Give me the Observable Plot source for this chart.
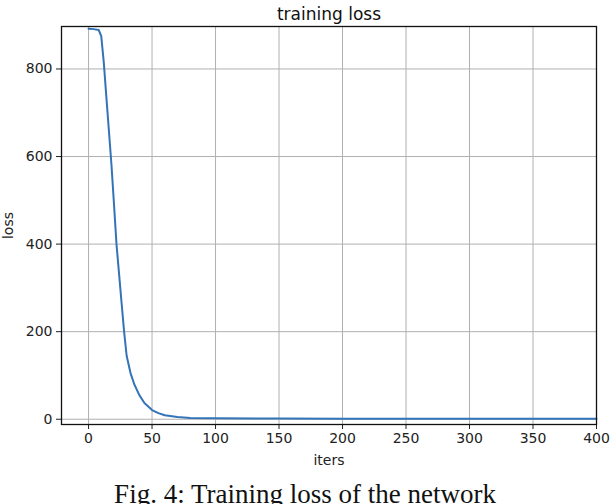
<!DOCTYPE html>
<html>
<head>
<meta charset="utf-8">
<script src="https://cdn.jsdelivr.net/npm/d3@7"></script>
<script src="https://cdn.jsdelivr.net/npm/@observablehq/plot@0.6"></script>
<style>
  html, body { margin: 0; padding: 0; background: #fff; }
  #wrap { width: 610px; height: 504px; overflow: hidden; position: relative; }
  #caption { position: absolute; left: 0; width: 610px; top: 481px; text-align: center; line-height: 1;
    font-family: "Liberation Serif", "Times New Roman", serif; font-size: 27px; color: #111; white-space: nowrap; }
</style>
</head>
<body>
<div id="wrap"><div id="chart"></div><div id="caption">Fig. 4: Training loss of the network</div></div>
<script>
const titleText = "training loss";
const xLabel = "iters";
const yLabel = "loss";
const xTicks = [0, 50, 100, 150, 200, 250, 300, 350, 400];
const yTicks = [0, 200, 400, 600, 800];
const iters = [0, 4, 8, 10, 12, 14, 16, 18, 20, 22, 24, 26, 28, 30, 33, 36, 40, 44, 50, 55, 60, 70, 80, 100, 150, 200, 250, 300, 350, 400];
const losses = [892, 891, 889, 875, 815, 737, 660, 583, 493, 400, 333, 266, 200, 145, 106, 80, 55, 37, 21, 14, 9, 5, 3, 2, 1.5, 1.2, 1.1, 1, 1, 1];

const data = iters.map((it, i) => ({iter: it, loss: losses[i]}));

const chart = Plot.plot({
  width: 610,
  height: 476,
  marginLeft: 61,
  marginRight: 14,
  marginTop: 26,
  marginBottom: 52,
  style: {fontFamily: "DejaVu Sans", fontSize: "14px", color: "#222", background: "#fff"},
  x: {domain: [-21.3, 400], ticks: xTicks, tickSize: 5, tickPadding: 4, label: xLabel, labelAnchor: "center", labelArrow: "none", labelOffset: 40},
  y: {domain: [-12, 897], ticks: yTicks, tickSize: 5, tickPadding: 4, label: yLabel, labelAnchor: "center", labelArrow: "none", labelOffset: 58},
  marks: [
    Plot.gridX(xTicks, {stroke: "#b0b0b0", strokeOpacity: 1, strokeWidth: 1}),
    Plot.gridY(yTicks, {stroke: "#b0b0b0", strokeOpacity: 1, strokeWidth: 1}),
    Plot.line(data, {x: "iter", y: "loss", stroke: "#3374b8", strokeWidth: 2}),
    Plot.frame({stroke: "#111", strokeWidth: 1.3}),
    Plot.text([titleText], {frameAnchor: "top", dy: -19, fontSize: 17, fill: "#111", fontFamily: "DejaVu Sans"})
  ]
});
document.getElementById("chart").appendChild(chart);
</script>
</body>
</html>
